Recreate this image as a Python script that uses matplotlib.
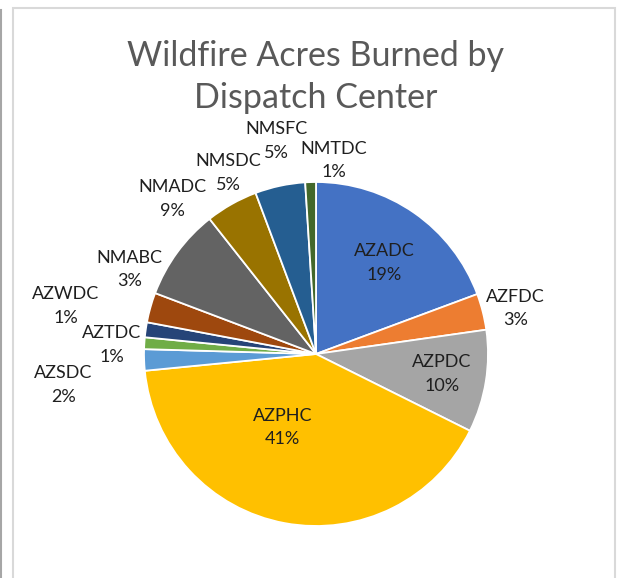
import numpy as np
import matplotlib.pyplot as plt
from matplotlib.patches import Rectangle
from matplotlib.lines import Line2D

# Acres burned share by dispatch center (percent)
centers = ['AZADC', 'AZFDC', 'AZPDC', 'AZPHC', 'AZSDC', 'AZTDC',
           'AZWDC', 'NMABC', 'NMADC', 'NMSDC', 'NMSFC', 'NMTDC']
shares = [19.3, 3.4, 9.6, 41.0, 2.0, 1.1, 1.4, 2.8, 8.6, 4.9, 4.7, 1.0]

colors = ['#4472C4', '#ED7D31', '#A5A5A5', '#FFC000', '#5B9BD5', '#70AD47',
          '#264478', '#9E480E', '#636363', '#997300', '#255E91', '#43682B']

# label placement: (angle nudge from wedge middle in degrees, radius factor)
label_place = [(2, 0.66), (1.4, 1.19), (0, 0.74), (14, 0.47), (-5, 1.48), (-1, 1.19),
               (2.7, 1.48), (8.7, 1.19), (11, 1.23), (3.5, 1.17), (1.6, 1.26), (7, 1.13)]

plt.rcParams['font.family'] = ['Lato', 'DejaVu Sans']

W, H = 621, 578
fig = plt.figure(figsize=(W / 100, H / 100), dpi=100)
ax = fig.add_axes([0, 0, 1, 1])

# chart frame
ax.add_patch(Rectangle((13, -5), 602, H - 8 + 5, fill=False, edgecolor='#D9D9D9', linewidth=1.5))
ax.add_line(Line2D([1, 1], [0, H - 10], color='#A6A6A6', linewidth=1.5))

cx, cy, R = 316, H - 354, 172
wedges, _ = ax.pie(shares, colors=colors, startangle=90, counterclock=False,
                   center=(cx, cy), radius=R, frame=True,
                   wedgeprops=dict(edgecolor='white', linewidth=1.3))
ax.set_xlim(0, W)
ax.set_ylim(0, H)
ax.axis('off')

total = sum(shares)
for w, name, v, (nudge, rf) in zip(wedges, centers, shares, label_place):
    mid = 90 - (w.theta1 + w.theta2) / 2 + nudge
    a = np.deg2rad(mid)
    x = cx + rf * R * np.sin(a)
    y = cy + rf * R * np.cos(a)
    ax.text(x, y, f'{name}\n{v / total * 100:.0f}%', ha='center', va='center',
            fontsize=13, color='#1F1F1F', linespacing=1.6)

ax.text(W / 2 + 5, H - 77, 'Wildfire Acres Burned by\nDispatch Center', ha='center', va='center',
        fontsize=24.5, color='#595959', linespacing=1.37)

fig.savefig('out.png', dpi=100)
